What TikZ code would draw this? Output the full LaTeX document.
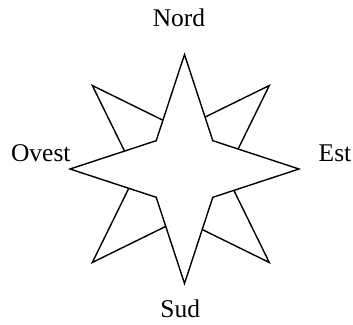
\documentclass[tikz,border=0pt]{standalone}
\usepackage{fontspec}
\setmainfont{Liberation Serif}
\begin{document}
\begin{tikzpicture}[x=1pt,y=-1pt,
  starline/.style={line width=1.4pt,line join=miter},
  lbl/.style={font=\fontsize{25.5}{30}\selectfont,inner sep=0pt,anchor=base}]
\useasboundingbox (0,0) rectangle (353,324);
% secondary (diagonal) star
\begin{scope}[shift={(180.8,174)}]
\draw[starline] (-88.5,-88.5) -- (0,-45) -- (88.5,-88.5) -- (45,0) -- (88.5,88.5) -- (0,45) -- (-88.5,88.5) -- (-45,0) -- cycle;
\end{scope}
% main star
\begin{scope}[shift={(184.5,169)}]
\draw[starline,fill=white] (0,-114.5) -- (28.3,-28.3) -- (114.5,0) -- (28.3,28.3) -- (0,114.5) -- (-28.3,28.3) -- (-114.5,0) -- (-28.3,-28.3) -- cycle;
\end{scope}
\node[lbl] (nord) at (179,26.7) {Nord};
\node[lbl] (sud) at (180.3,317.7) {Sud};
\node[lbl] (ovest) at (40.8,161.7) {Ovest};
\node[lbl] (est) at (335,161.7) {Est};
\end{tikzpicture}
\end{document}
